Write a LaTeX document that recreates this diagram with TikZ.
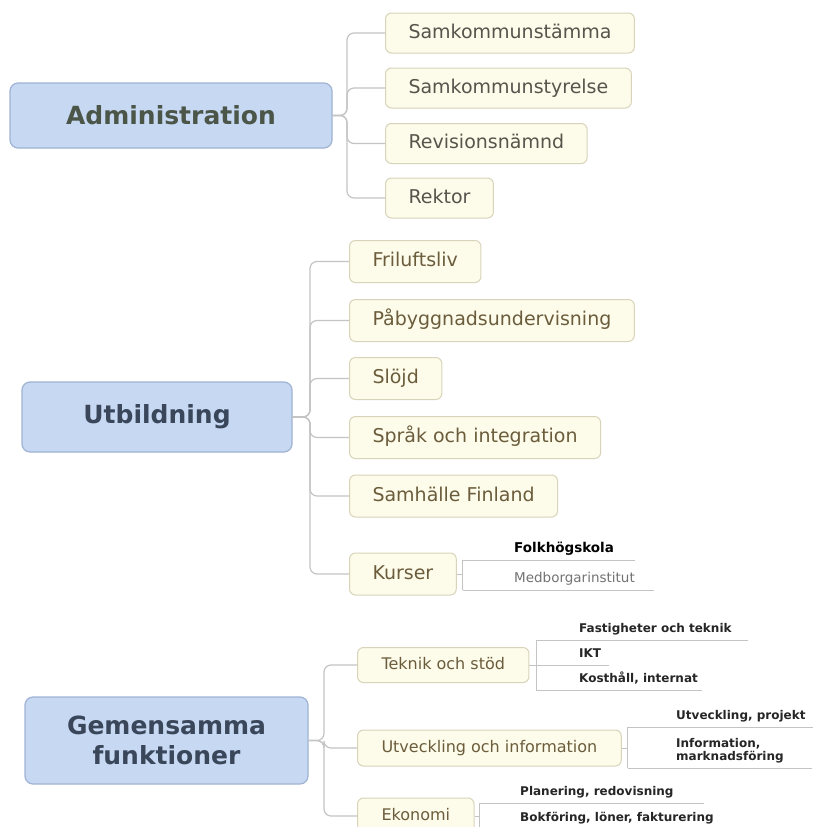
\documentclass[tikz,border=0pt]{standalone}
\usepackage{fontspec}
\setmainfont{DejaVu Sans}
\usetikzlibrary{positioning,calc}

\definecolor{mainfill}{HTML}{C6D8F2}
\definecolor{maindraw}{HTML}{9FB3D3}
\definecolor{subfill}{HTML}{FDFBEA}
\definecolor{subdraw}{HTML}{D8D4BA}
\definecolor{linegray}{HTML}{C4C4C4}
\definecolor{admtext}{HTML}{4B5548}
\definecolor{blutext}{HTML}{3A4659}
\definecolor{subtext}{HTML}{6B5D3C}
\definecolor{admsub}{HTML}{55554C}

\tikzset{
  topic/.style={draw=maindraw, fill=mainfill, rounded corners=8pt, line width=1.2pt,
    font=\bfseries\fontsize{25}{30}\selectfont, align=center},
  subtopic/.style={draw=subdraw, fill=subfill, rounded corners=6pt, line width=1pt,
    anchor=west, inner xsep=23pt, inner ysep=0pt, text height=14pt, text depth=4pt,
    text=subtext, font=\fontsize{19}{23}\selectfont},
  leaf/.style={anchor=south west, inner sep=0pt, text depth=3pt, align=left,
    font=\bfseries\fontsize{12}{13.5}\selectfont, text=black!85},
  conn/.style={draw=linegray, line width=1.2pt, rounded corners=7pt},
  uline/.style={draw=linegray, line width=1pt},
}

\begin{document}
\begin{tikzpicture}[x=1pt,y=-1pt]
\clip (0,0) rectangle (813,827);
\fill[white] (0,0) rectangle (813,827);

% Administration
\node[topic, text=admtext, minimum width=322pt, minimum height=65pt] (adm) at (171,115.5) {Administration};
\node[subtopic, text=admsub, minimum height=40pt] (stamma) at (385,33) {Samkommunstämma};
\node[subtopic, text=admsub, minimum height=40pt] (styr) at (385,88) {Samkommunstyrelse};
\node[subtopic, text=admsub, minimum height=40pt] (rev) at (385,143.5) {Revisionsnämnd};
\node[subtopic, text=admsub, minimum height=40pt] (rekt) at (385,198) {Rektor};
\foreach \c in {stamma,styr,rev,rekt}
  \draw[conn] (adm.east) -| ($(\c.west)+(-38,0)$) -- (\c.west);

% Utbildning
\node[topic, text=blutext, minimum width=270pt, minimum height=70pt] (utb) at (157,417) {Utbildning};
\node[subtopic, minimum height=42pt] (fril) at (349,261.5) {Friluftsliv};
\node[subtopic, minimum height=42pt] (paby) at (349,320.5) {Påbyggnadsundervisning};
\node[subtopic, minimum height=42pt] (slojd) at (349,378.5) {Slöjd};
\node[subtopic, minimum height=42pt] (sprak) at (349,437.5) {Språk och integration};
\node[subtopic, minimum height=42pt] (samh) at (349,496) {Samhälle Finland};
\node[subtopic, minimum height=42pt] (kurs) at (349,574) {Kurser};
\foreach \c in {fril,paby,slojd,sprak,samh,kurs}
  \draw[conn] (utb.east) -| ($(\c.west)+(-39,0)$) -- (\c.west);

% Kurser
\coordinate (kursB) at ($(kurs.east)+(6,0)$);
\node[leaf, font=\bfseries\fontsize{13.5}{16}\selectfont, text=black] (fhs) at (514,556) {Folkhögskola};
\node[leaf, font=\fontsize{13.5}{16}\selectfont, text=black!55] (mbi) at (514,586) {Medborgarinstitut};
\coordinate (fhsL) at ($(fhs.south east)+(21,4)$);
\coordinate (mbiL) at ($(mbi.south east)+(19,4)$);
\draw[uline] (kurs.east) -- (kursB);
\draw[uline] (kursB |- fhsL) -- (kursB |- mbiL);
\foreach \l in {fhsL,mbiL}
  \draw[uline] (kursB |- \l) -- (\l);

% Gemensamma funktioner
\node[topic, text=blutext, minimum width=283pt, minimum height=87pt] (gem) at (166.5,740.5) {Gemensamma\\funktioner};
\node[subtopic, minimum height=35pt, font=\fontsize{16}{20}\selectfont, text height=12pt, text depth=3.5pt, inner xsep=24pt] (tek) at (357,665) {Teknik och stöd};
\node[subtopic, minimum height=36pt, font=\fontsize{16}{20}\selectfont, text height=12pt, text depth=3.5pt, inner xsep=24pt] (utv) at (357,748) {Utveckling och information};
\node[subtopic, minimum height=36pt, font=\fontsize{16}{20}\selectfont, text height=12pt, text depth=3.5pt, inner xsep=24pt] (eko) at (357,816) {Ekonomi};
\foreach \c in {tek,utv,eko}
  \draw[conn] (gem.east) -| ($(\c.west)+(-33,0)$) -- (\c.west);

% Teknik och stod
\coordinate (tekB) at ($(tek.east)+(7,0)$);
\node[leaf] (fast) at (579,636) {Fastigheter och teknik};
\node[leaf] (ikt) at (579,661) {IKT};
\node[leaf] (kost) at (579,686) {Kosthåll, internat};
\coordinate (fastL) at ($(fast.south east)+(16,4)$);
\coordinate (iktL) at ($(ikt.south east)+(8,4)$);
\coordinate (kostL) at ($(kost.south east)+(4,4)$);
\draw[uline] (tek.east) -- (tekB);
\draw[uline] (tekB |- fastL) -- (tekB |- kostL);
\foreach \l in {fastL,iktL,kostL}
  \draw[uline] (tekB |- \l) -- (\l);

% Utveckling och information
\coordinate (utvB) at ($(utv.east)+(6,0)$);
\node[leaf] (uproj) at (676,723) {Utveckling, projekt};
\node[leaf] (info) at (676,764) {Information,\\marknadsföring};
\coordinate (uprojL) at ($(uproj.south east)+(12,4)$);
\coordinate (infoL) at ($(info.south east)+(28,4)$);
\draw[uline] (utv.east) -- (utvB);
\draw[uline] (utvB |- uprojL) -- (utvB |- infoL);
\foreach \l in {uprojL,infoL}
  \draw[uline] (utvB |- \l) -- (\l);

% Ekonomi
\coordinate (ekoB) at ($(eko.east)+(5,0)$);
\node[leaf] (plan) at (520,799) {Planering, redovisning};
\node[leaf] (bokf) at (520,825) {Bokföring, löner, fakturering};
\coordinate (planL) at ($(plan.south east)+(30,4)$);
\coordinate (bokfL) at ($(bokf.south east)+(15,4)$);
\draw[uline] (eko.east) -- (ekoB);
\draw[uline] (ekoB |- planL) -- (ekoB |- bokfL);
\foreach \l in {planL,bokfL}
  \draw[uline] (ekoB |- \l) -- (\l);
\end{tikzpicture}
\end{document}
